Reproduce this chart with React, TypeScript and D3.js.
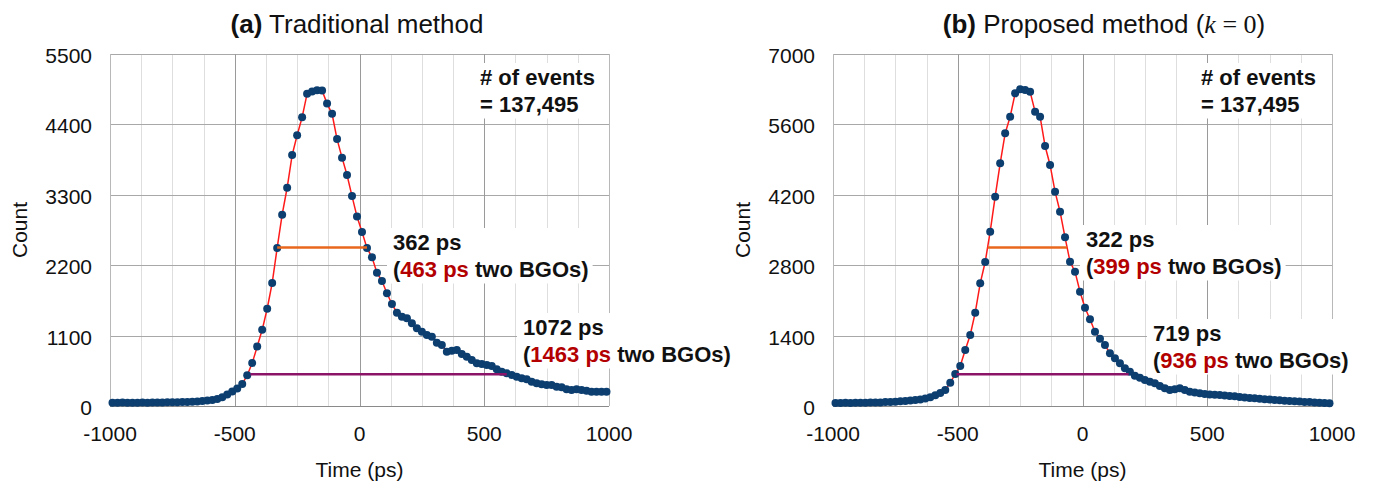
import { useEffect, useRef } from 'react'
import * as d3 from 'd3'

const W = 1373, H = 489
const TOP = 54, BOTTOM = 406, PW = 499
const SANS = '"Liberation Sans", Arial, Helvetica, sans-serif'
const SERIF = '"Liberation Serif", "Times New Roman", serif'

// 20 ps histogram bins, centres from -990 to 990
const TIME_BINS = d3.range(-990, 1000, 20)
const X_TICKS = [-1000, -500, 0, 500, 1000]
const X_MINOR = [-875, -750, -625, -375, -250, -125, 125, 250, 375, 625, 750, 875]

const Y_TICKS_A = [0, 1100, 2200, 3300, 4400, 5500]
const Y_TICKS_B = [0, 1400, 2800, 4200, 5600, 7000]

const COUNTS_A = [
  52, 50, 53, 50, 52, 51, 53, 52, 55, 54,
  56, 57, 58, 60, 62, 64, 68, 72, 78, 85,
  95, 110, 135, 180, 225, 275, 345, 480, 670, 930,
  1190, 1520, 1920, 2470, 2990, 3410, 3920, 4230, 4510, 4880,
  4915, 4935, 4930, 4725, 4565, 4170, 3880, 3610, 3280, 2960,
  2720, 2470, 2323, 2083, 1953, 1761, 1594, 1458, 1396, 1370,
  1292, 1214, 1161, 1109, 1083, 989, 953, 849, 864, 875,
  813, 771, 719, 667, 656, 641, 625, 573, 536, 510,
  484, 458, 432, 417, 380, 354, 339, 328, 328, 302,
  292, 261, 250, 261, 250, 240, 224, 224, 224, 224,
]

const COUNTS_B = [
  62, 60, 63, 62, 65, 64, 66, 68, 70, 72,
  78, 82, 86, 92, 100, 110, 118, 130, 148, 175,
  215, 260, 318, 464, 636, 795, 1114, 1412, 1856, 2440,
  2864, 3466, 4163, 4826, 5423, 5753, 6218, 6297, 6284, 6250,
  5853, 5753, 5170, 4793, 4262, 3864, 3355, 2870, 2671, 2273,
  1955, 1724, 1478, 1339, 1213, 1048, 948, 849, 749, 683,
  600, 564, 517, 484, 451, 398, 351, 318, 331, 351,
  318, 285, 270, 255, 240, 230, 225, 219, 210, 200,
  192, 180, 170, 160, 152, 145, 135, 128, 120, 112,
  106, 100, 95, 88, 82, 78, 72, 66, 60, 53,
]

// full width at half / tenth maximum: [start, end] in ps, and level in counts
const FWHM_A = [-330, 30], FWHM_A_LEVEL = 2475
const FWTM_A = [-437, 590], FWTM_A_LEVEL = 495
const FWHM_B = [-380, -62], FWHM_B_LEVEL = 3150
const FWTM_B = [-505, 185], FWTM_B_LEVEL = 630

const RES_A = ['362 ps', '463 ps', '1072 ps', '1463 ps']
const RES_B = ['322 ps', '399 ps', '719 ps', '936 ps']
const N_EVENTS = '137,495'

const PANELS = [
  {
    left: 110, yTicks: Y_TICKS_A, counts: COUNTS_A,
    fwhm: FWHM_A, fwhmLevel: FWHM_A_LEVEL, fwtm: FWTM_A, fwtmLevel: FWTM_A_LEVEL,
    res: RES_A, titleX: 357, tag: '(a)', title: ' Traditional method', k: false,
    countX: 27, events: [480, 85], hm: [393, 250], tm: [523, 335],
  },
  {
    left: 833, yTicks: Y_TICKS_B, counts: COUNTS_B,
    fwhm: FWHM_B, fwhmLevel: FWHM_B_LEVEL, fwtm: FWTM_B, fwtmLevel: FWTM_B_LEVEL,
    res: RES_B, titleX: 1104, tag: '(b)', title: ' Proposed method (', k: true,
    countX: 750, events: [1201, 85], hm: [1086, 247], tm: [1153, 341],
  },
]

const px = (v: number) => Math.round(v) + 0.5

export default function App() {
  const ref = useRef<SVGSVGElement>(null)

  useEffect(() => {
    const svg = d3.select(ref.current)
    svg.selectAll('*').remove()
    svg.append('rect').attr('width', W).attr('height', H).attr('fill', '#fff')

    PANELS.forEach(p => {
      const x = d3.scaleLinear([-1000, 1000], [p.left, p.left + PW])
      const y = d3.scaleLinear([0, p.yTicks[p.yTicks.length - 1]], [BOTTOM, TOP])
      const g = svg.append('g')

      // grid
      g.selectAll('line.minor').data(X_MINOR).join('line')
        .attr('x1', d => px(x(d))).attr('x2', d => px(x(d)))
        .attr('y1', TOP).attr('y2', BOTTOM)
        .attr('stroke', '#dedede').attr('stroke-width', 1)
      g.selectAll('line.hgrid').data(p.yTicks).join('line')
        .attr('x1', p.left).attr('x2', p.left + PW)
        .attr('y1', d => px(y(d))).attr('y2', d => px(y(d)))
        .attr('stroke', d => d === 0 ? '#8a8a8a' : '#a8a8a8').attr('stroke-width', 1)
      g.selectAll('line.major').data(X_TICKS).join('line')
        .attr('x1', d => px(x(d))).attr('x2', d => px(x(d)))
        .attr('y1', TOP).attr('y2', BOTTOM)
        .attr('stroke', d => Math.abs(d) === 1000 ? '#b8b8b8' : '#9a9a9a').attr('stroke-width', 1)

      // tick labels
      g.selectAll('text.yt').data(p.yTicks).join('text')
        .attr('x', p.left - 18).attr('y', d => y(d) + 9)
        .attr('text-anchor', 'end').attr('font-family', SANS).attr('font-size', 21)
        .attr('fill', '#111').text(d => d)
      g.selectAll('text.xt').data(X_TICKS).join('text')
        .attr('x', d => x(d)).attr('y', 441)
        .attr('text-anchor', 'middle').attr('font-family', SANS).attr('font-size', 21)
        .attr('fill', '#111').text(d => d)

      g.append('text').attr('x', p.left + PW / 2).attr('y', 477)
        .attr('text-anchor', 'middle').attr('font-family', SANS).attr('font-size', 21)
        .attr('fill', '#111').text('Time (ps)')
      g.append('text')
        .attr('transform', `translate(${p.countX},${(TOP + BOTTOM) / 2}) rotate(-90)`)
        .attr('text-anchor', 'middle').attr('font-family', SANS).attr('font-size', 21)
        .attr('fill', '#111').text('Count')

      // title
      const t = g.append('text').attr('x', p.titleX).attr('y', 33)
        .attr('text-anchor', 'middle').attr('font-family', SANS).attr('font-size', 26).attr('fill', '#111')
      t.append('tspan').attr('font-weight', 'bold').text(p.tag)
      t.append('tspan').text(p.title)
      if (p.k) {
        t.append('tspan').attr('font-family', SERIF).attr('font-style', 'italic').text('k')
        t.append('tspan').attr('font-family', SERIF).text(' = 0')
        t.append('tspan').text(')')
      }

      // data: red connecting line, then dots
      const pts = TIME_BINS.map((tb, i) => [tb, p.counts[i]] as [number, number])
      g.append('path').datum(pts)
        .attr('d', d3.line<[number, number]>().x(d => x(d[0])).y(d => y(d[1])))
        .attr('fill', 'none').attr('stroke', '#ff1a1a').attr('stroke-width', 1.5)
      g.selectAll('circle').data(pts).join('circle')
        .attr('cx', d => x(d[0])).attr('cy', d => y(d[1])).attr('r', 4)
        .attr('fill', '#0c3e70')

      // FWHM / FWTM bars
      g.append('line')
        .attr('x1', x(p.fwhm[0])).attr('x2', x(p.fwhm[1]))
        .attr('y1', y(p.fwhmLevel)).attr('y2', y(p.fwhmLevel))
        .attr('stroke', '#e8671c').attr('stroke-width', 2.5)
      g.append('line')
        .attr('x1', x(p.fwtm[0])).attr('x2', x(p.fwtm[1]))
        .attr('y1', y(p.fwtmLevel)).attr('y2', y(p.fwtmLevel))
        .attr('stroke', '#8c1468').attr('stroke-width', 2.5)

      // annotations with white boxes
      const note = (ax: number, ay: number, l1: string, red: string | null, rest: string) => {
        const ng = g.append('g')
        const tx = ng.append('text').attr('font-family', SANS).attr('font-size', 22)
          .attr('font-weight', 'bold').attr('fill', '#111')
        tx.append('tspan').attr('x', ax).attr('y', ay).text(l1)
        const s2 = tx.append('tspan').attr('x', ax).attr('y', ay + 26.5)
        if (red) {
          s2.append('tspan').text('(')
          s2.append('tspan').attr('fill', '#b30000').text(red)
          s2.append('tspan').text(rest)
        } else {
          s2.text(rest)
        }
        const bb = (tx.node() as SVGTextElement).getBBox()
        ng.insert('rect', 'text')
          .attr('x', bb.x - 6).attr('y', bb.y - 2)
          .attr('width', bb.width + 10).attr('height', bb.height + 4)
          .attr('fill', '#fff')
      }
      note(p.events[0], p.events[1], '# of events', null, '= ' + N_EVENTS)
      note(p.hm[0], p.hm[1], p.res[0], p.res[1], ' two BGOs)')
      note(p.tm[0], p.tm[1], p.res[2], p.res[3], ' two BGOs)')
    })
  }, [])

  return (
    <svg
      ref={ref}
      width={W} height={H}
      viewBox={`0 0 ${W} ${H}`}
      style={{ position: 'absolute', left: 0, top: 0, display: 'block' }}
    />
  )
}
